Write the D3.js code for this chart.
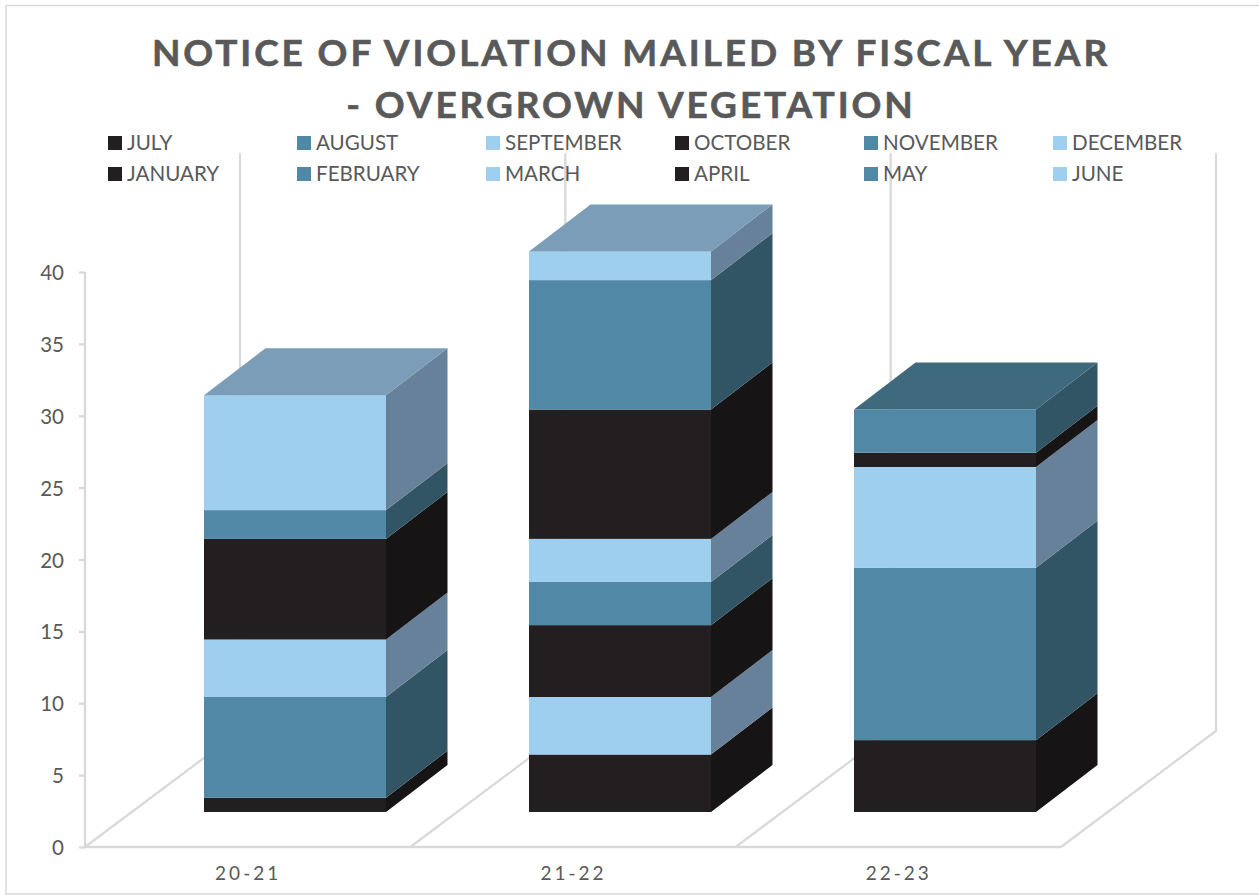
<!DOCTYPE html>
<html><head><meta charset="utf-8">
<script src="https://cdn.jsdelivr.net/npm/d3@7"></script>
<style>html,body{margin:0;padding:0;background:#fff}svg{display:block}text{font-family:Lato,sans-serif}</style>
</head><body><svg id="c" width="1259" height="895"></svg>
<script>
const categories = ["20-21","21-22","22-23"];
const months = ["JULY","AUGUST","SEPTEMBER","OCTOBER","NOVEMBER","DECEMBER","JANUARY","FEBRUARY","MARCH","APRIL","MAY","JUNE"];
const july      = [1,4,5];
const august    = [7,0,12];
const september = [4,4,7];
const october   = [7,5,1];
const november  = [2,3,3];
const december  = [8,3,0];
const january   = [0,9,0];
const february  = [0,9,0];
const march     = [0,2,0];
const april     = [0,0,0];
const may       = [0,0,0];
const june      = [0,0,0];
const monthValues = [july,august,september,october,november,december,january,february,march,april,may,june];
const yTicks = [0,5,10,15,20,25,30,35,40];
const titleLines = ["NOTICE OF VIOLATION MAILED BY FISCAL YEAR","- OVERGROWN VEGETATION"];

const front = ["#231f20","#5088a6","#9ecfef"];
const side  = ["#161415","#315564","#668199"];
const topC  = ["#2a2627","#3f697c","#7c9db8"];
const tone = i => i % 3;
const GRID = "#d9d9d9", TXT = "#595959";

const svg = d3.select("#c");
const W = 1259, H = 895;
const plot = {l:85, r:1061, y0:847, y40:272, dx:155, dy:-116, wallTop:153};
const bar  = {offset:118.7, width:182, dx:61.5, dy:-47, lift:35};

const x = d3.scaleBand().domain(categories).range([plot.l, plot.r]);
const y = d3.scaleLinear().domain([0,40]).range([plot.y0, plot.y40]);

// chart frame
svg.append("path").attr("d",`M${W},5.5H6V894H${W}`).attr("fill","none").attr("stroke",GRID).attr("stroke-width",1.5);

// walls and floor
const g = svg.append("g").attr("fill","none").attr("stroke",GRID).attr("stroke-width",2.3);
const edges = categories.map(c=>x(c)).concat(plot.r);
edges.forEach(e=>{
  g.append("path").attr("d",`M${e},${plot.y0}L${e+plot.dx},${plot.y0+plot.dy}V${plot.wallTop}`);
});
g.append("path").attr("d",`M${plot.l},${plot.y40}V${plot.y0}H${plot.r}`);

// y axis through d3.axisLeft
const yAxis = svg.append("g").attr("transform",`translate(${plot.l},0)`)
  .call(d3.axisLeft(y).tickValues(yTicks).tickSize(6).tickPadding(15));
yAxis.select(".domain").remove();
yAxis.selectAll("line").attr("stroke",GRID).attr("stroke-width",2.3);
yAxis.selectAll("text").attr("fill",TXT).attr("dy","0.37em").style("font-size","20.5px").style("font-family","Lato,sans-serif");

// stacked 3D columns
const rows = categories.map((c,i)=>{
  const o={cat:c}; months.forEach((m,j)=>o[m]=monthValues[j][i]); return o;
});
const stacked = d3.stack().keys(months)(rows);
rows.forEach((r,ci)=>{
  const X0 = Math.round(x(r.cat)+bar.offset), X1 = X0+bar.width;
  const segs = stacked.map((s,k)=>({k, a:s[ci][0], b:s[ci][1]})).filter(d=>d.b>d.a);
  const G = svg.append("g");
  segs.forEach(d=>{
    const ya=y(d.a)-bar.lift, yb=y(d.b)-bar.lift;
    G.append("path").attr("d",`M${X1},${ya}L${X1+bar.dx},${ya+bar.dy}V${yb+bar.dy}L${X1},${yb}Z`).attr("fill",side[tone(d.k)]);
    G.append("rect").attr("x",X0).attr("y",yb).attr("width",bar.width).attr("height",ya-yb).attr("fill",front[tone(d.k)]);
  });
  const t = segs[segs.length-1], yt = y(t.b)-bar.lift;
  G.append("path").attr("d",`M${X0},${yt}L${X0+bar.dx},${yt+bar.dy}H${X1+bar.dx}L${X1},${yt}Z`).attr("fill",topC[tone(t.k)]);
});

// x labels
svg.selectAll(".xl").data(categories).join("text").attr("class","xl")
  .attr("x",d=>x(d)+x.bandwidth()/2+0.5).attr("y",880).attr("text-anchor","middle")
  .attr("fill",TXT).style("font-size","19px").style("letter-spacing","3px").text(d=>d);

// title
svg.selectAll(".ti").data(titleLines).join("text").attr("class","ti")
  .attr("x",631).attr("y",(d,i)=>66+i*52).attr("text-anchor","middle")
  .attr("fill",TXT).attr("stroke",TXT).attr("stroke-width",0.6)
  .style("font-size","37px").style("font-weight","700").style("letter-spacing","2.9px").text(d=>d);

// legend
const lgX = d3.scalePoint().domain(d3.range(6)).range([108,1053]);
const lg = svg.selectAll(".lg").data(months).join("g").attr("class","lg")
  .attr("transform",(d,i)=>`translate(${lgX(i%6)},${136+Math.floor(i/6)*31})`);
lg.append("rect").attr("width",14).attr("height",14).attr("fill",(d,i)=>front[tone(i)]);
lg.append("text").attr("x",19).attr("y",14).attr("fill",TXT).style("font-size","20.6px").text(d=>d);
</script></body></html>
